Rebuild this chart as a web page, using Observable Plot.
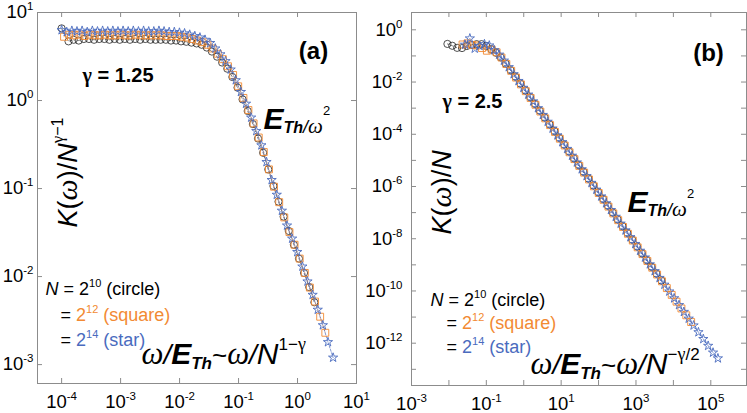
<!DOCTYPE html>
<html><head><meta charset="utf-8">
<script src="https://cdn.jsdelivr.net/npm/d3@7"></script>
<script src="https://cdn.jsdelivr.net/npm/@observablehq/plot@0.6"></script>
<style>
body{margin:0;background:#fff;}
#wrap{position:relative;width:747px;height:413px;overflow:hidden;background:#fff;}
#wrap svg{position:absolute;top:0;}
</style></head>
<body><div id="wrap"></div>
<script>
// ---------------- Panel (a): gamma = 1.25 ----------------
const aStarW = [1.000e-4,1.221e-4,1.492e-4,1.822e-4,2.226e-4,2.718e-4,3.320e-4,4.055e-4,4.953e-4,6.050e-4,7.389e-4,9.025e-4,1.102e-3,1.346e-3,1.644e-3,2.009e-3,2.453e-3,2.996e-3,3.660e-3,4.471e-3,5.460e-3,6.669e-3,8.145e-3,9.948e-3,1.215e-2,1.484e-2,1.813e-2,2.214e-2,2.704e-2,3.303e-2,4.034e-2,4.927e-2,6.018e-2,7.350e-2,8.977e-2,0.1096,0.1339,0.1636,0.1998,0.2440,0.2981,0.3641,0.4447,0.5431,0.6634,0.8103,0.9897,1.209,1.476,1.803,2.203,2.690,3.286,4.013];
const aStarK = [6.3,6.0,6.2,6.1,6.2,6.0,6.2,6.1,6.2,6.1,6.2,6.1,6.2,6.1,6.2,6.1,6.2,6.1,6.1,6.2,6.1,6.0,6.0,5.9,5.8,5.6,5.4,5.2,4.9,4.5,3.9,3.35,2.8,2.25,1.7,1.25,0.92,0.64,0.45,0.31,0.2,0.125,0.085,0.056,0.038,0.027,0.019,0.013,0.0088,0.0062,0.0042,0.0028,0.0018,0.0012];
const aSquareW = [1.10e-4,1.34e-4,1.64e-4,2.00e-4,2.45e-4,2.99e-4,3.65e-4,4.46e-4,5.45e-4,6.66e-4,8.13e-4,9.93e-4,1.21e-3,1.48e-3,1.81e-3,2.21e-3,2.70e-3,3.30e-3,4.03e-3,4.92e-3,6.01e-3,7.34e-3,8.96e-3,1.09e-2,1.34e-2,1.63e-2,1.99e-2,2.44e-2,2.97e-2,3.63e-2,4.44e-2,5.42e-2,6.62e-2,8.09e-2,9.87e-2,0.121,0.147,0.180,0.220,0.268,0.328,0.400,0.489,0.597,0.730,0.891,1.089,1.33,1.62,1.98,2.42,2.96];
const aSquareK = [5.3,5.6,5.5,5.6,5.4,5.6,5.5,5.5,5.6,5.5,5.5,5.6,5.5,5.5,5.6,5.5,5.5,5.5,5.5,5.5,5.4,5.4,5.4,5.3,5.2,5.0,4.8,4.6,4.3,3.9,3.4,2.95,2.45,1.95,1.45,1.07,0.78,0.55,0.38,0.26,0.165,0.105,0.07,0.047,0.032,0.023,0.016,0.011,0.0075,0.0052,0.0035,0.0023];
const aCircleW = [1.0e-4,1.31e-4,1.60e-4,1.95e-4,2.38e-4,2.91e-4,3.55e-4,4.34e-4,5.30e-4,6.47e-4,7.91e-4,9.66e-4,1.18e-3,1.44e-3,1.76e-3,2.15e-3,2.62e-3,3.21e-3,3.92e-3,4.78e-3,5.84e-3,7.14e-3,8.72e-3,1.06e-2,1.30e-2,1.59e-2,1.94e-2,2.37e-2,2.89e-2,3.53e-2,4.32e-2,5.27e-2,6.44e-2,7.86e-2,9.61e-2,0.117,0.143,0.175,0.214,0.261,0.319,0.390,0.476,0.581,0.710,0.867,1.059,1.29,1.58,1.93];
const aCircleK = [6.6,4.7,4.9,4.8,5.0,5.0,4.9,5.0,5.0,4.9,5.0,4.9,5.0,4.9,5.0,4.9,5.0,4.9,4.9,4.9,4.9,4.8,4.8,4.7,4.65,4.55,4.45,4.3,4.0,3.6,3.15,2.7,2.3,1.85,1.4,1.03,0.76,0.54,0.37,0.255,0.165,0.107,0.071,0.048,0.033,0.023,0.016,0.011,0.0076,0.0051];
const aXTicks = [1e-4,1e-3,1e-2,1e-1,1,10];
const aXTickLabels = ["10^-4","10^-3","10^-2","10^-1","10^0","10^1"];
const aYTicks = [1e-3,1e-2,1e-1,1,10];
const aYTickLabels = ["10^-3","10^-2","10^-1","10^0","10^1"];

// ---------------- Panel (b): gamma = 2.5 ----------------
const bStarW = [2.69e-2,3.63e-2,4.90e-2,6.61e-2,8.91e-2,0.120,0.162,0.219,0.295,0.398,0.537,0.724,0.977,1.318,1.778,2.399,3.236,4.365,5.888,7.943,10.72,14.45,19.50,26.30,35.48,47.86,64.57,87.10,117.5,158.5,213.8,288.4,389.0,524.8,707.9,955.0,1288,1738,2344,3162,4266,5754,7762,10470,14130,19050,25700,34670,46770,63100,85110,114800,154900];
const bStarK = [0.269,0.468,0.191,0.240,0.282,0.251,0.166,0.112,0.0661,0.0372,0.0200,0.0110,6.03e-3,3.31e-3,1.82e-3,1.00e-3,5.50e-4,3.02e-4,1.66e-4,9.12e-5,5.01e-5,2.75e-5,1.51e-5,8.32e-6,4.57e-6,2.51e-6,1.38e-6,7.59e-7,4.17e-7,2.29e-7,1.26e-7,6.92e-8,3.80e-8,2.09e-8,1.15e-8,6.31e-9,3.47e-9,1.91e-9,1.05e-9,5.75e-10,3.16e-10,1.74e-10,9.55e-11,5.25e-11,2.88e-11,1.58e-11,8.71e-12,4.79e-12,2.63e-12,1.45e-12,7.94e-13,4.37e-13,2.63e-13];
const bSquareW = [2.317e-2,3.126e-2,4.217e-2,5.69e-2,7.67e-2,0.1035,0.1396,0.1884,0.2541,0.3428,0.4624,0.6237,0.8414,1.135,1.531,2.065,2.786,3.758,5.070,6.839,9.226,12.45,16.79,22.65,30.55,41.21,55.59,74.99,101.2,136.5,184.1,248.3,335.0,451.9,609.5,822.2,1109,1496,2018,2723,3673,4955,6683,9016,12160,16410,22130,29850];
const bSquareK = [0.275,0.302,0.263,0.251,0.200,0.158,0.174,0.138,0.087,0.049,0.0269,0.0148,8.13e-3,4.47e-3,2.45e-3,1.35e-3,7.41e-4,4.07e-4,2.24e-4,1.23e-4,6.76e-5,3.72e-5,2.04e-5,1.12e-5,6.17e-6,3.39e-6,1.86e-6,1.02e-6,5.62e-7,3.09e-7,1.70e-7,9.33e-8,5.13e-8,2.82e-8,1.55e-8,8.51e-9,4.68e-9,2.57e-9,1.41e-9,7.76e-10,4.27e-10,2.34e-10,1.29e-10,7.08e-11,3.89e-11,2.14e-11,1.17e-11,6.46e-12];
const bCircleW = [9.12e-3,1.23e-2,1.66e-2,2.24e-2,3.02e-2,4.07e-2,5.50e-2,7.41e-2,0.100,0.135,0.182,0.245,0.331,0.447,0.603,0.813,1.096,1.479,1.995,2.692,3.631,4.898,6.607,8.913,12.02,16.22,21.88,29.51,39.81,53.70,72.44,97.72,131.8,177.8,239.9,323.6,436.5,588.8,794.3,1072,1445,1950,2630,3548,4786];
const bCircleK = [0.288,0.245,0.204,0.200,0.240,0.263,0.282,0.282,0.240,0.182,0.132,0.0871,0.0501,0.0282,0.0158,8.71e-3,4.79e-3,2.63e-3,1.45e-3,7.94e-4,4.37e-4,2.40e-4,1.32e-4,7.24e-5,3.98e-5,2.19e-5,1.20e-5,6.61e-6,3.63e-6,2.00e-6,1.10e-6,6.03e-7,3.31e-7,1.82e-7,1.00e-7,5.50e-8,3.02e-8,1.66e-8,9.12e-9,5.01e-9,2.75e-9,1.51e-9,8.32e-10,4.57e-10,2.51e-10];
const bXTicks = [1e-3,1e-2,1e-1,1,10,100,1e3,1e4,1e5];
const bXLabelTicks = [1e-3,1e-1,10,1e3,1e5];
const bXTickLabels = ["10^-3","10^-1","10^1","10^3","10^5"];
const bYTicks = [1,1e-1,1e-2,1e-3,1e-4,1e-5,1e-6,1e-7,1e-8,1e-9,1e-10,1e-11,1e-12,1e-13];
const bYLabelTicks = [1,1e-2,1e-4,1e-6,1e-8,1e-10,1e-12];
const bYTickLabels = ["10^0","10^-2","10^-4","10^-6","10^-8","10^-10","10^-12"];

// ---------------- styling ----------------
const SANS = "Liberation Sans, Arial, Helvetica, sans-serif";
const SERIF = "Liberation Serif, Times New Roman, serif";
const ORANGE = "#F28A33";
const BLUE = "#4A6BBE";
const BLACK = "#222";
const FRAME = "#8c8c8c";

const rows = (w, k) => w.map((x, i) => ({w: x, k: k[i]}));

// rich text definitions (segments with optional superscript/subscript shifts)
const sup = (t, fill) => ({t, size: 11, sh: -8, fill});
function legend(prefix, power, name, fill) {
  return prefix === "N"
    ? [{t: "N", i: 1, size: 18}, {t: " = 2", size: 18}, sup(power), {t: " " + name, size: 18}]
    : [{t: "= ", size: 18}, {t: "2", size: 18, fill}, sup(power, fill), {t: " " + name, size: 18, fill}];
}
const ethSegs = [
  {t: "E", w: "bold", i: 1, size: 30},
  {t: "Th", w: "bold", i: 1, size: 16, sh: 4},
  {t: "/", i: 1, size: 18, sh: 4},
  {t: "ω", i: 1, f: SERIF, size: 21, sh: 4},
  {t: "2", size: 13, sh: -14}
];
function xlabSegs(expo) {
  return [
    {t: "ω", i: 1, f: SERIF, size: 31},
    {t: "/", i: 1, size: 28},
    {t: "E", w: "bold", i: 1, size: 30},
    {t: "Th", w: "bold", i: 1, size: 17, sh: 5},
    {t: "~", size: 26},
    {t: "ω", i: 1, f: SERIF, size: 31},
    {t: "/", i: 1, size: 28},
    {t: "N", i: 1, size: 30},
    ...expo
  ];
}
const RICH = {
  "§(a)": [{t: "(a)", w: "bold", size: 24}],
  "§(b)": [{t: "(b)", w: "bold", size: 24}],
  "§ga": [{t: "γ", w: "bold", f: SERIF, size: 20}, {t: " = 1.25", w: "bold", size: 20}],
  "§gb": [{t: "γ", w: "bold", f: SERIF, size: 20}, {t: " = 2.5", w: "bold", size: 20}],
  "§eth": ethSegs,
  "§xla": xlabSegs([{t: "1−", size: 17, sh: -14}, {t: "γ", f: SERIF, size: 18, sh: -14}]),
  "§xlb": xlabSegs([{t: "−", size: 17, sh: -14}, {t: "γ", f: SERIF, size: 18, sh: -14}, {t: "/2", size: 17, sh: -14}]),
  "§yla": [{t: "K", i: 1, size: 27}, {t: "(", size: 27}, {t: "ω", i: 1, f: SERIF, size: 30}, {t: ")/", size: 27}, {t: "N", i: 1, size: 27}, {t: "γ", f: SERIF, size: 17, sh: -14}, {t: "−1", size: 16, sh: -14}],
  "§ylb": [{t: "K", i: 1, size: 27}, {t: "(", size: 27}, {t: "ω", i: 1, f: SERIF, size: 30}, {t: ")/", size: 27}, {t: "N", i: 1, size: 27}],
  "§l1": legend("N", "10", "(circle)", BLACK),
  "§l2": legend("=", "12", "(square)", ORANGE),
  "§l3": legend("=", "14", "(star)", BLUE)
};

// annotations: page pixel positions (baseline), per panel
const annA = [
  {key: "§(a)", x: 313, y: 58, anchor: "middle"},
  {key: "§ga", x: 82, y: 81, anchor: "start"},
  {key: "§eth", x: 263, y: 128, anchor: "start"},
  {key: "§xla", x: 141, y: 363, anchor: "start"},
  {key: "§yla", x: 76, y: 227, anchor: "start", rotate: -90},
  {key: "§l1", x: 45, y: 294, anchor: "start"},
  {key: "§l2", x: 60, y: 320, anchor: "start"},
  {key: "§l3", x: 60, y: 345, anchor: "start"}
];
const annB = [
  {key: "§(b)", x: 708, y: 60, anchor: "middle"},
  {key: "§gb", x: 442, y: 107, anchor: "start"},
  {key: "§eth", x: 627, y: 211, anchor: "start"},
  {key: "§xlb", x: 530, y: 373, anchor: "start"},
  {key: "§ylb", x: 450, y: 234, anchor: "start", rotate: -90},
  {key: "§l1", x: 430, y: 305, anchor: "start"},
  {key: "§l2", x: 446, y: 328, anchor: "start"},
  {key: "§l3", x: 446, y: 352, anchor: "start"}
];

function seriesMarks(circ, sq, st) {
  return [
    Plot.line(circ, {x: "w", y: "k", stroke: BLACK, strokeWidth: 0.6, strokeDasharray: "2,2"}),
    Plot.line(sq, {x: "w", y: "k", stroke: ORANGE, strokeWidth: 0.6, strokeDasharray: "2,2"}),
    Plot.line(st, {x: "w", y: "k", stroke: BLUE, strokeWidth: 0.7, strokeDasharray: "2,1.5"}),
    Plot.dot(circ, {x: "w", y: "k", symbol: "circle", r: 3.6, stroke: BLACK, fill: "none", strokeWidth: 0.8}),
    Plot.dot(sq, {x: "w", y: "k", symbol: "square", r: 3.9, stroke: ORANGE, fill: "none", strokeWidth: 0.9}),
    Plot.dot(st, {x: "w", y: "k", symbol: "star", r: 2.9, stroke: BLUE, fill: "none", strokeWidth: 0.9})
  ];
}

function annMarks(list, offsetX, m) {
  return list.map(a => Plot.text([a], {
    frameAnchor: "top-left", dx: a.x - offsetX - m.left, dy: a.y - m.top,
    text: d => d.key, textAnchor: a.anchor, lineAnchor: "bottom", rotate: a.rotate || 0, fill: "#000"
  }));
}

function axisMarks(xt, xlt, xl, yt, ylt, yl, ypad, fw, fh) {
  const xMap = new Map(xlt.map((v, i) => [v, xl[i]]));
  const yMap = new Map(ylt.map((v, i) => [v, yl[i]]));
  const T = 5;
  return [
    Plot.tickX(xt, {x: d => d, stroke: FRAME, insetTop: fh - T}),
    Plot.tickX(xt, {x: d => d, stroke: FRAME, insetBottom: fh - T}),
    Plot.tickY(yt, {y: d => d, stroke: FRAME, insetRight: fw - T}),
    Plot.tickY(yt, {y: d => d, stroke: FRAME, insetLeft: fw - T}),
    Plot.axisX(xlt, {anchor: "bottom", tickSize: 0, tickPadding: 12, tickFormat: d => xMap.get(d), fill: "#000", label: null}),
    Plot.axisY(ylt, {anchor: "left", tickSize: 0, tickPadding: ypad, tickFormat: d => yMap.get(d), fill: "#000", label: null})
  ];
}

const style = {fontFamily: SANS, fontSize: "18px", background: "transparent", overflow: "visible"};

const mA = {left: 37, right: 14, top: 12, bottom: 30};
const plotA = Plot.plot({
  width: 370, height: 413,
  marginLeft: mA.left, marginRight: mA.right, marginTop: mA.top, marginBottom: mA.bottom,
  style,
  x: {type: "log", domain: [3.9e-5, 10]},
  y: {type: "log", domain: [6.1e-4, 10]},
  marks: [
    ...seriesMarks(rows(aCircleW, aCircleK), rows(aSquareW, aSquareK), rows(aStarW, aStarK)),
    Plot.frame({stroke: FRAME, strokeWidth: 1}),
    ...axisMarks(aXTicks, aXTicks, aXTickLabels, aYTicks, aYTicks, aYTickLabels, 4, 370 - 37 - 14, 413 - 12 - 30),
    ...annMarks(annA, 0, mA)
  ]
});

const mB = {left: 41, right: 1, top: 12, bottom: 28};
const plotB = Plot.plot({
  width: 377, height: 413,
  marginLeft: mB.left, marginRight: mB.right, marginTop: mB.top, marginBottom: mB.bottom,
  style,
  x: {type: "log", domain: [1e-3, 9e5]},
  y: {type: "log", domain: [2.4e-14, 4.6]},
  marks: [
    ...seriesMarks(rows(bCircleW, bCircleK), rows(bSquareW, bSquareK), rows(bStarW, bStarK)),
    Plot.frame({stroke: FRAME, strokeWidth: 1}),
    ...axisMarks(bXTicks, bXLabelTicks, bXTickLabels, bYTicks, bYLabelTicks, bYTickLabels, 9, 377 - 41 - 1, 413 - 12 - 28),
    ...annMarks(annB, 370, mB)
  ]
});

const NS = "http://www.w3.org/2000/svg";
function buildRich(el, segs) {
  el.textContent = "";
  let cur = 0;
  for (const s of segs) {
    const ts = document.createElementNS(NS, "tspan");
    ts.textContent = s.t;
    const sh = s.sh || 0;
    if (sh !== cur) { ts.setAttribute("dy", sh - cur); cur = sh; }
    if (s.size) ts.setAttribute("font-size", s.size);
    if (s.w) ts.setAttribute("font-weight", s.w);
    if (s.i) ts.setAttribute("font-style", "italic");
    if (s.f) ts.setAttribute("font-family", s.f);
    if (s.fill) ts.setAttribute("fill", s.fill);
    el.appendChild(ts);
  }
}
function enrich(svg) {
  svg.querySelectorAll("text").forEach(el => {
    const s = el.textContent;
    if (RICH[s]) buildRich(el, RICH[s]);
    else {
      const m = /^10\^(-?\d+)$/.exec(s);
      if (m) buildRich(el, [{t: "10", size: 18.5}, {t: m[1], size: 11.5, sh: -8}]);
    }
  });
}
enrich(plotA); enrich(plotB);
plotA.style.left = "0px";
plotB.style.left = "370px";
const wrap = document.getElementById("wrap");
wrap.appendChild(plotA);
wrap.appendChild(plotB);
</script>
</body></html>
